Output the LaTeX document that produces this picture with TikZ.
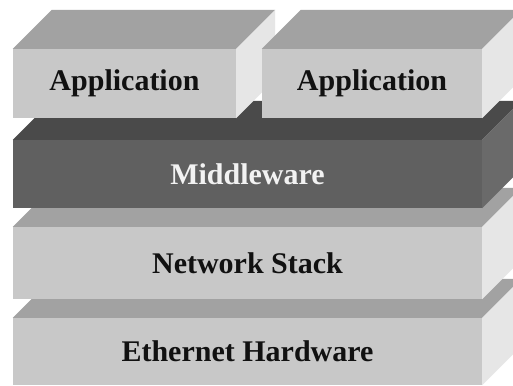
\documentclass[tikz,border=0pt]{standalone}
\usepackage{fontspec}
\setmainfont{Liberation Serif}
\definecolor{lightfront}{HTML}{C8C8C8}
\definecolor{lighttop}{HTML}{A2A2A2}
\definecolor{lightside}{HTML}{E6E6E6}
\definecolor{lightink}{HTML}{111111}
\definecolor{darkfront}{HTML}{606060}
\definecolor{darktop}{HTML}{4A4A4A}
\definecolor{darkside}{HTML}{6A6A6A}
\definecolor{darkink}{HTML}{F2F2F2}
% #1 name, #2 colour set, #3/#4 centre of the front face, #5 width, #6 height, #7 label
\newcommand\slab[7]{%
  \node[face, fill=#2front, text=#2ink, minimum width=#5pt, minimum height=#6pt] (#1) at (#3,#4) {#7};
  \fill[#2top] (#1.north west) -- (#1.north east) -- ++(39,-39)
    -- ([shift={(39,-39)}]#1.north west) -- cycle;
  \fill[#2side] (#1.north east) -- ++(39,-39)
    -- ([shift={(39,-39)}]#1.south east) -- (#1.south east) -- cycle;
}
\begin{document}
\begin{tikzpicture}[x=1pt,y=-1pt,
  face/.style={draw=none, rectangle, inner sep=0pt,
    font=\fontsize{30}{36}\selectfont\bfseries}]
\useasboundingbox (0,0) rectangle (513,385);
\fill[white] (0,0) rectangle (513,385);
\clip (0,0) rectangle (513,385);
% layers are drawn from the bottom up so each one hides the lower top face
\slab{eth}{light}{247.5}{351.5}{469}{67}{Ethernet Hardware}
\slab{net}{light}{247.5}{263}{469}{72}{Network Stack}
\slab{mw}{dark}{247.5}{174}{469}{68}{Middleware}
\slab{appa}{light}{124.5}{83.5}{223}{69}{Application}
\slab{appb}{light}{372}{83.5}{220}{69}{Application}
\end{tikzpicture}
\end{document}
